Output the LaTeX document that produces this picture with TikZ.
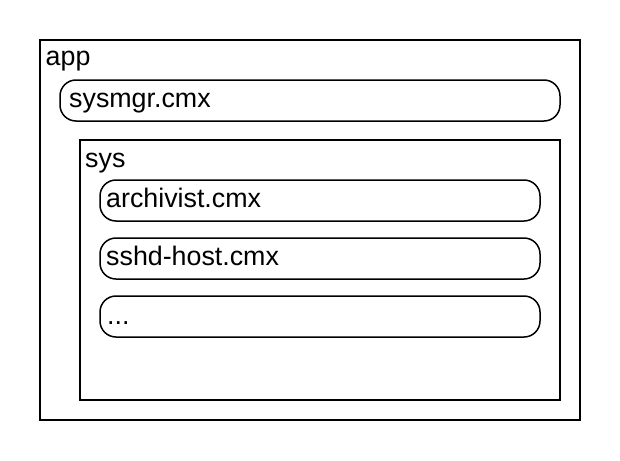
\documentclass[tikz,border=0pt]{standalone}
\usepackage{fontspec}
\setmainfont{Liberation Sans}
\begin{document}
\begin{tikzpicture}[x=1pt,y=-1pt,
  frame/.style={draw=black,line width=2pt},
  pill/.style={draw=black,line width=1.5pt,rounded corners=16pt},
  lbl/.style={anchor=base west,inner sep=0pt,font=\fontsize{26.8pt}{30pt}\selectfont}]
\useasboundingbox (0,0) rectangle (620,460);
\draw[frame] (40,40) rectangle (580,420);
\node[lbl] (app) at (45.5,65) {app};
\draw[pill] (60,80) rectangle (560,121);
\node[lbl] (sysmgr) at (69,107.5) {sysmgr.cmx};
\draw[frame] (80,140) rectangle (560,400);
\node[lbl] (sys) at (85,167) {sys};
\draw[pill] (100,180) rectangle (540,221);
\node[lbl] (archivist) at (106,207.5) {archivist.cmx};
\draw[pill] (100,238) rectangle (540,279);
\node[lbl] (sshd) at (106,265.5) {sshd-host.cmx};
\draw[pill] (100,296) rectangle (540,337);
\node[lbl] (dots) at (107,324) {...};
\end{tikzpicture}
\end{document}
